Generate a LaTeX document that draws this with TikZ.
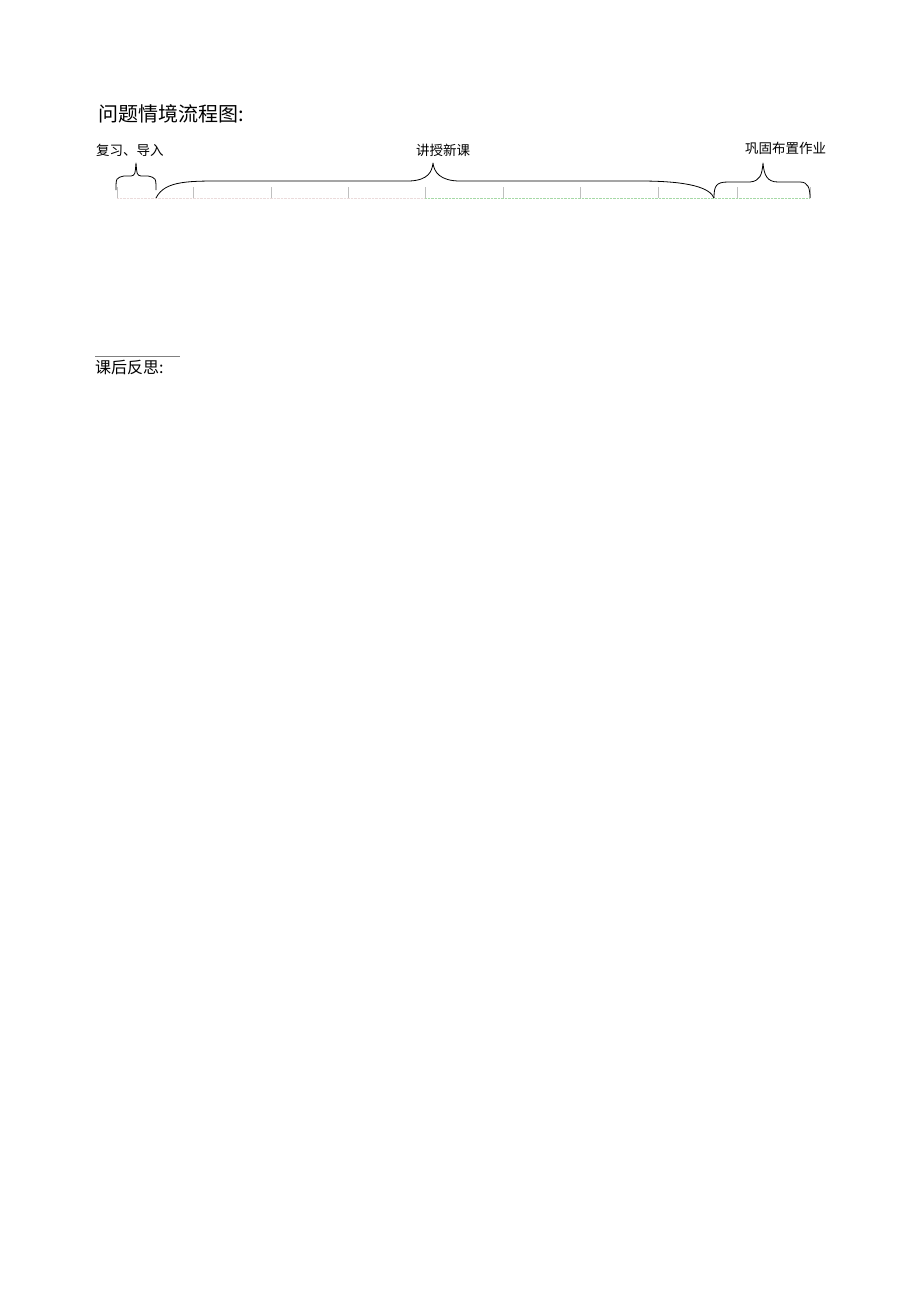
\documentclass[tikz,border=0pt]{standalone}
\usepackage{fontspec}
\newfontfamily\cjk{Noto Sans CJK SC}
\usepackage{tikz}

\begin{document}
\begin{tikzpicture}[x=1pt,y=-1pt]
	\useasboundingbox (0,0) rectangle (920,1301);
	
	% title and labels
	\node[anchor=west,inner sep=0pt] (title) at (98,114) {\cjk\fontsize{20}{24}\selectfont 问题情境流程图:};
	\node[anchor=west,inner sep=0pt] (review) at (96,150) {\cjk\fontsize{13.5}{16}\selectfont 复习、导入};
	\node[inner sep=0pt] (teach) at (443,150) {\cjk\fontsize{13.5}{16}\selectfont 讲授新课};
	\node[anchor=west,inner sep=0pt] (consol) at (745,148) {\cjk\fontsize{13.5}{16}\selectfont 巩固布置作业};
	
	% time line
	\draw[color=pink!60!gray!40,densely dotted] (117,198) -- (425,198);
	\draw[color=green!40!gray!50,densely dotted] (425,198) -- (810,198);
	\foreach \x in {117,193,271,348,425,503,580,658,737,810}
	{
		\draw[color=gray!50] (\x,187) -- (\x,198);
	}
	
	% braces
	\draw[thick,line join=round] (116,190) .. controls (116,178) .. (124,176) -- (131,176) .. controls (135,175) .. (136,163)
		.. controls (137,175) .. (141,176) -- (148,176) .. controls (156,178) .. (156,190);
	\draw[thick,line join=round] (156,198) .. controls (165,180) and (190,181) .. (230,181) -- (410,181)
		.. controls (428,180) and (432,172) .. (433,163)
		.. controls (434,172) and (440,181) .. (460,181) -- (640,181)
		.. controls (690,181) and (710,188) .. (714,198);
	\draw[thick,line join=round] (714,198) .. controls (714,186) and (716,182) .. (728,182) -- (750,182)
		.. controls (760,181) and (762,175) .. (763,163)
		.. controls (764,175) and (767,182) .. (778,182) -- (800,182)
		.. controls (808,182) and (810,188) .. (810,198);
	
	% reflection
	\draw[color=gray] (95,356) -- (180,356);
	\node[anchor=west,inner sep=0pt] (reflect) at (95,368) {\cjk\fontsize{16}{19}\selectfont 课后反思:};

\end{tikzpicture}
\end{document}
